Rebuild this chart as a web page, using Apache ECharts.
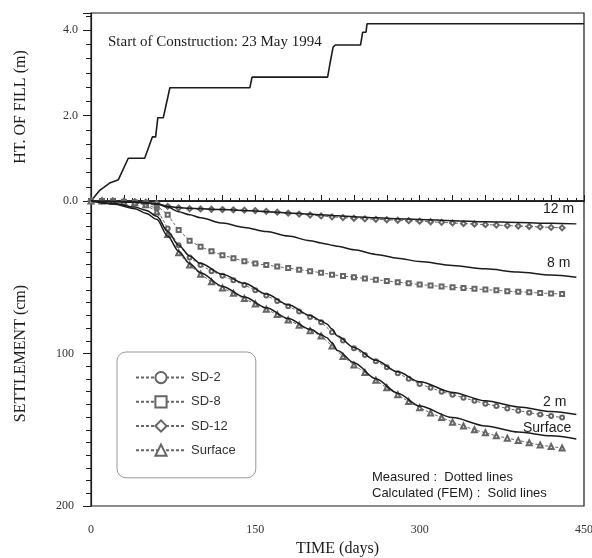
<!DOCTYPE html>
<html>
<head>
<meta charset="utf-8">
<script src="https://cdn.jsdelivr.net/npm/echarts@6/dist/echarts.min.js"></script>
<style>
  html, body { margin: 0; padding: 0; background: #fff; }
  #chart { width: 592px; height: 558px; }
</style>
</head>
<body>
<div id="chart"></div>
<script>
// Height of fill (m) against time (days) - stepped construction history
const fillDays   = [0, 8, 17, 25, 34, 49, 56, 59, 61, 66, 72, 145, 147, 216, 218, 221, 223, 246, 248, 251, 252, 450];
const fillHeight = [0, 0.25, 0.42, 0.5, 1.0, 1.0, 1.5, 1.5, 1.95, 1.95, 2.65, 2.65, 2.9, 2.9, 3.2, 3.6, 3.65, 3.65, 3.95, 3.95, 4.15, 4.15];

// Measured settlement (cm), dotted lines
const measDays = [0, 10, 20, 30, 40, 50, 60, 70, 80, 90, 100, 110, 120, 130, 140, 150, 160, 170, 180, 190,
                  200, 210, 220, 230, 240, 250, 260, 270, 280, 290, 300, 310, 320, 330, 340, 350, 360, 370, 380, 390,
                  400, 410, 420, 430];
const measSD2 = [0, 0, 0.3, 0.6, 1, 2, 5, 18, 29, 37, 42, 46, 49, 52, 55, 58.5, 62, 65.5, 69, 72.5,
                 76, 79.5, 86, 91.5, 96.5, 101, 105, 109, 113, 116.5, 120, 122.5, 125, 127, 129, 131, 133, 134.5, 136, 137.5,
                 138.8, 140, 141, 142];
const measSD8 = [0, 0, 0.2, 0.5, 1, 1.5, 3, 9, 19, 26, 30, 33, 35.5, 37.5, 39.5, 41, 42, 43, 44, 45,
                 46, 47, 48.3, 49.2, 50, 50.8, 51.6, 52.4, 53.2, 54, 54.8, 55.4, 56, 56.6, 57.1, 57.6, 58.1, 58.6, 59.1, 59.5,
                 59.9, 60.3, 60.7, 61];
const measSD12 = [0, 0, 0, 0.3, 0.5, 0.8, 1.5, 3.5, 4.5, 5, 5.2, 5.4, 5.6, 5.8, 6, 6.3, 6.8, 7.3, 8, 8.6,
                  9.2, 9.8, 10.4, 10.9, 11.3, 11.7, 12, 12.3, 12.6, 12.9, 13.2, 13.6, 14, 14.4, 14.8, 15.1, 15.5, 15.8, 16.1, 16.4,
                  16.7, 17, 17.3, 17.6];
const measSurface = [0, 0, 0.3, 0.7, 1.2, 2.5, 7, 22, 34, 42, 48, 53, 57, 60.5, 64, 67.5, 71, 74.5, 78, 81.5,
                     85, 88.5, 95, 102, 107.5, 112.5, 117.5, 122.5, 127, 131.5, 135.5, 139, 142, 145, 147.5, 150, 152, 154, 155.5, 157,
                     158.5, 160, 161, 162];

// Calculated (FEM) settlement (cm), solid lines
const calcDays = [0, 20, 40, 50, 60, 70, 80, 90, 100, 120, 140, 160, 180, 200, 210, 215, 220, 225, 240, 260, 280, 300, 330, 360, 390, 420, 443];
const calc2m  = [0, 1.5, 4, 6, 10, 20, 29, 36, 41, 48, 54, 61, 68, 75, 78.5, 80.5, 84, 88.5, 96, 104.5, 112, 118.5, 125.5, 131, 135, 138, 140];
const calc8m  = [0, 0.4, 0.9, 1.3, 2, 4, 7, 9, 11, 14.5, 17.3, 20, 23, 26, 27.5, 28.2, 29, 29.7, 32, 35, 37.5, 39.7, 42.3, 44.5, 46.5, 48.5, 50];
const calc12m = [0, 0.3, 0.7, 1, 1.8, 3.5, 4.3, 4.8, 5.1, 5.6, 6.2, 7, 7.8, 8.6, 9, 9.2, 9.5, 9.7, 10.3, 11, 11.6, 12.1, 12.9, 13.6, 14.1, 14.6, 15];
const calcSurface = [0, 2, 5, 8, 12, 23, 33, 41, 47, 56, 63, 70, 77, 84, 87.5, 89.5, 93, 98, 106, 116.5, 126, 134.5, 142, 147.5, 151.5, 154, 156];

const legendNames = ['SD-2', 'SD-8', 'SD-12', 'Surface'];

const serif = '"Liberation Serif", "DejaVu Serif", serif';
const sans = '"Liberation Sans", Arial, sans-serif';
const ink = '#1c1c1c';
const grey = '#666';

function pairs(xs, ys) {
    return xs.map((x, i) => [x, ys[i]]);
}

const chart = echarts.init(document.getElementById('chart'));

// measured series: dashed with small hollow markers
const measured = [
    { name: 'SD-2', data: measSD2, symbol: 'emptyCircle', size: 4 },
    { name: 'SD-8', data: measSD8, symbol: 'emptyRect', size: 4 },
    { name: 'SD-12', data: measSD12, symbol: 'emptyDiamond', size: 5 },
    { name: 'Surface', data: measSurface, symbol: 'emptyTriangle', size: 5 }
].map(s => ({
    name: s.name,
    type: 'line',
    xAxisIndex: 1,
    yAxisIndex: 1,
    data: pairs(measDays, s.data),
    symbol: s.symbol,
    symbolSize: s.size,
    showAllSymbol: true,
    itemStyle: { color: grey, borderWidth: 1 },
    lineStyle: { color: grey, width: 1, type: [3, 2] },
    emphasis: { disabled: true },
    z: 3
}));

const calculated = [
    ['FEM 2 m', calc2m],
    ['FEM 8 m', calc8m],
    ['FEM 12 m', calc12m],
    ['FEM Surface', calcSurface]
].map(([name, vals]) => ({
    name: name,
    type: 'line',
    xAxisIndex: 1,
    yAxisIndex: 1,
    data: pairs(calcDays, vals),
    symbol: 'none',
    smooth: 0.3,
    smoothMonotone: 'x',
    lineStyle: { color: ink, width: 1.5 },
    emphasis: { disabled: true },
    z: 4
}));

const tickLabel = { fontFamily: serif, fontSize: 12, color: '#333' };

const option = {
    animation: false,
    backgroundColor: '#fff',
    textStyle: { fontFamily: serif },
    grid: [
        { left: 91, right: 8, top: 13, height: 188, show: true, borderColor: ink, borderWidth: 1.2, outerBoundsMode: 'none' },
        { left: 91, right: 8, top: 201, height: 305, show: true, borderColor: ink, borderWidth: 1.2, outerBoundsMode: 'none' }
    ],
    xAxis: [
        {
            gridIndex: 0, type: 'value', min: 0, max: 450,
            axisLine: { show: true, lineStyle: { color: ink, width: 1.5 } },
            axisTick: { show: false }, axisLabel: { show: false }, splitLine: { show: false }
        },
        {
            gridIndex: 1, type: 'value', min: 0, max: 450, interval: 30,
            name: 'TIME (days)', nameLocation: 'middle', nameGap: 35,
            nameTextStyle: { fontFamily: serif, fontSize: 16, color: ink },
            axisLine: { show: true, lineStyle: { color: ink, width: 1.2 } },
            axisTick: { show: true, inside: true, length: 6, lineStyle: { color: ink } },
            minorTick: { show: true, splitNumber: 4, length: 3, lineStyle: { color: ink } },
            axisLabel: {
                ...tickLabel, margin: 18,
                formatter: v => (v % 150 === 0 ? String(v) : '')
            },
            splitLine: { show: false }, minorSplitLine: { show: false }
        }
    ],
    yAxis: [
        {
            gridIndex: 0, type: 'value', min: 0, max: 4.4, interval: 2,
            name: 'HT. OF FILL (m)', nameLocation: 'middle', nameGap: 62,
            nameTextStyle: { fontFamily: serif, fontSize: 16, color: ink },
            axisLine: { show: true, lineStyle: { color: ink, width: 1.2 } },
            axisTick: { show: true, length: 8, lineStyle: { color: ink } },
            minorTick: { show: true, splitNumber: 6, length: 5, lineStyle: { color: ink } },
            axisLabel: {
                ...tickLabel, margin: 13,
                formatter: v => ([0, 2, 4].includes(v) ? v.toFixed(1) : '')
            },
            splitLine: { show: false }
        },
        {
            gridIndex: 1, type: 'value', min: 0, max: 200, interval: 100, inverse: true,
            name: 'SETTLEMENT (cm)', nameLocation: 'middle', nameGap: 62,
            nameTextStyle: { fontFamily: serif, fontSize: 16, color: ink },
            axisLine: { show: true, lineStyle: { color: ink, width: 1.2 } },
            axisTick: { show: true, length: 8, lineStyle: { color: ink } },
            minorTick: { show: true, splitNumber: 12, length: 5, lineStyle: { color: ink } },
            axisLabel: {
                ...tickLabel, margin: 17,
                formatter: v => (v === 0 ? '' : String(v))
            },
            splitLine: { show: false }
        }
    ],
    legend: {
        data: legendNames,
        orient: 'vertical',
        left: 117,
        top: 352,
        padding: [19, 20, 21, 18],
        itemWidth: 50,
        itemHeight: 14,
        itemGap: 11,
        borderColor: '#999',
        borderWidth: 1,
        borderRadius: 9,
        backgroundColor: '#fff',
        selectedMode: false,
        itemStyle: { borderWidth: 1 },
        textStyle: { fontFamily: sans, fontSize: 13, color: '#333' }
    },
    graphic: [
        { type: 'text', x: 108, y: 42, style: { text: 'Start of Construction: 23 May 1994', font: '15px ' + serif, fill: ink, verticalAlign: 'middle' } },
        { type: 'text', x: 543, y: 209, style: { text: '12 m', font: '14px ' + sans, fill: ink, verticalAlign: 'middle' } },
        { type: 'text', x: 547, y: 263, style: { text: '8 m', font: '14px ' + sans, fill: ink, verticalAlign: 'middle' } },
        { type: 'text', x: 543, y: 402, style: { text: '2 m', font: '14px ' + sans, fill: ink, verticalAlign: 'middle' } },
        { type: 'text', x: 523, y: 428, style: { text: 'Surface', font: '14px ' + sans, fill: ink, verticalAlign: 'middle' } },
        { type: 'text', x: 372, y: 477, style: { text: 'Measured :  Dotted lines', font: '13px ' + sans, fill: ink, verticalAlign: 'middle' } },
        { type: 'text', x: 372, y: 493, style: { text: 'Calculated (FEM) :  Solid lines', font: '13px ' + sans, fill: ink, verticalAlign: 'middle' } }
    ],
    series: [
        {
            name: 'Fill',
            type: 'line',
            xAxisIndex: 0,
            yAxisIndex: 0,
            data: pairs(fillDays, fillHeight),
            symbol: 'none',
            lineStyle: { color: ink, width: 1.6 },
            emphasis: { disabled: true }
        },
        ...calculated,
        ...measured
    ]
};

chart.setOption(option);
</script>
</body>
</html>
